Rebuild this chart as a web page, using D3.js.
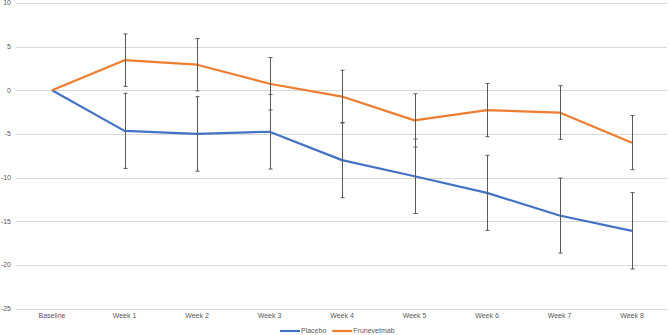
<!DOCTYPE html>
<html>
<head>
<meta charset="utf-8">
<script src="https://cdn.jsdelivr.net/npm/d3@7"></script>
<style>
  body { margin: 0; background: #fff; }
  text { font-family: "Liberation Sans", Arial, sans-serif; fill: #595959; }
</style>
</head>
<body>
<svg id="chart" width="669" height="335"></svg>
<script>
// categories and series
var categories = ["Baseline", "Week 1", "Week 2", "Week 3", "Week 4", "Week 5", "Week 6", "Week 7", "Week 8"];
var placebo = [0, -4.65, -5.0, -4.75, -8.0, -9.85, -11.75, -14.35, -16.1];
var placebo_err = [0, 4.3, 4.27, 4.27, 4.3, 4.27, 4.3, 4.3, 4.38];
var fruneve = [0, 3.45, 2.93, 0.75, -0.72, -3.45, -2.27, -2.55, -6.0];
var fruneve_err = [0, 3.0, 3.0, 3.0, 3.02, 3.05, 3.05, 3.07, 3.1];
var y_ticks = [10, 5, 0, -5, -10, -15, -20, -25];

var svg = d3.select("#chart");

var x = d3.scalePoint()
          .domain(categories)
          .range([52, 632]);

var y = d3.scaleLinear()
          .domain([-25, 10])
          .range([308.5, 3]);

// gridlines
svg.append("g")
   .selectAll("line")
   .data(y_ticks)
   .enter()
   .append("line")
   .attr("x1", 16)
   .attr("x2", 667)
   .attr("y1", d => Math.round(y(d)) + 0.5)
   .attr("y2", d => Math.round(y(d)) + 0.5)
   .attr("stroke", "#d9d9d9")
   .attr("stroke-width", 1);

// y labels
svg.append("g")
   .selectAll("text")
   .data(y_ticks)
   .enter()
   .append("text")
   .attr("x", 11)
   .attr("y", d => y(d))
   .attr("dy", "0.35em")
   .attr("text-anchor", "end")
   .style("font-size", "7px")
   .text(d => d);

// x labels
svg.append("g")
   .selectAll("text")
   .data(categories)
   .enter()
   .append("text")
   .attr("x", d => x(d))
   .attr("y", 318)
   .attr("text-anchor", "middle")
   .style("font-size", "7px")
   .text(d => d);

var series = [
  { name: "Placebo", values: placebo, err: placebo_err, color: "#4472C4" },
  { name: "Frunevetmab", values: fruneve, err: fruneve_err, color: "#ED7D31" }
];

var line = d3.line()
             .x((d, i) => x(categories[i]))
             .y(d => y(d));

series.forEach(s => {
  svg.append("path")
     .datum(s.values)
     .attr("d", line)
     .attr("fill", "none")
     .attr("stroke", s.color)
     .attr("stroke-width", 2.2)
     .attr("stroke-linejoin", "round");
});

// error bars on top
series.forEach(s => {
  var g = svg.append("g");
  s.values.forEach((v, i) => {
    if (s.err[i] === 0) return;
    var cx = Math.round(x(categories[i])) + 0.5;
    var top = y(v + s.err[i]);
    var bot = y(v - s.err[i]);
    g.append("line")
     .attr("x1", cx).attr("x2", cx)
     .attr("y1", top).attr("y2", bot)
     .attr("stroke", "#595959").attr("stroke-width", 1);
    [top, bot].forEach(yy => {
      g.append("line")
       .attr("x1", cx - 2).attr("x2", cx + 2)
       .attr("y1", yy).attr("y2", yy)
       .attr("stroke", "#595959").attr("stroke-width", 1);
    });
  });
});

// legend
var legend = svg.append("g").attr("transform", "translate(280, 331)");
var lx = 0;
series.forEach(s => {
  legend.append("line")
        .attr("x1", lx).attr("x2", lx + 20)
        .attr("y1", 0).attr("y2", 0)
        .attr("stroke", s.color)
        .attr("stroke-width", 2.2);
  var t = legend.append("text")
        .attr("x", lx + 21)
        .attr("y", 0)
        .attr("dy", "0.35em")
        .style("font-size", "7px")
        .text(s.name);
  lx += 21 + t.node().getComputedTextLength() + 6;
});
</script>
</body>
</html>
